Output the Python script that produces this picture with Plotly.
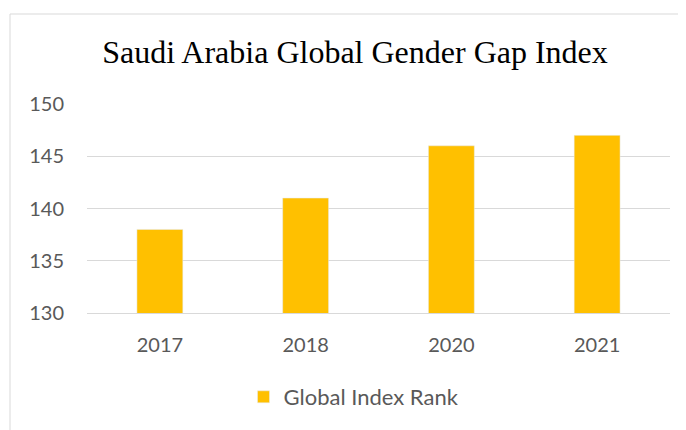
import plotly.graph_objects as go

years = ["2017", "2018", "2020", "2021"]
ranks = [138, 141, 146, 147]
series_name = "Global Index Rank"
title_text = "Saudi Arabia Global Gender Gap Index"

OFF = 8  # page body margin offset
W, H = 686, 430
# plot area in viewport pixels: x 87..670, y 104..313
L, R, T, B = 87 - OFF, W - (670 - OFF), 104 - OFF, H - (313 - OFF)
pw, ph = W - L - R, H - T - B

def px_x(x):
    return (x - OFF - L) / pw

def px_y(y):
    return (H - B - (y - OFF)) / ph

fig = go.Figure()
fig.add_trace(go.Bar(x=years, y=ranks, name=series_name, marker_color="#FFC000",
                     showlegend=True))

fig.update_layout(
    width=W, height=H,
    margin=dict(l=L, r=R, t=T, b=B),
    paper_bgcolor="white", plot_bgcolor="white",
    bargap=0.685,
    title=dict(text=title_text, x=(355 - OFF) / W, xref="container", xanchor="center",
               y=1 - (52 - OFF) / H, yref="container", yanchor="middle",
               font=dict(family="Liberation Serif", size=32, color="black")),
    font=dict(family="Lato", size=20, color="#595959"),
    showlegend=True,
    legend=dict(orientation="h", x=px_x(354), xanchor="center", y=px_y(397), yanchor="middle",
                font=dict(family="Lato", size=22, color="#595959")),
    xaxis=dict(showgrid=False, showline=True, linecolor="#D9D9D9", linewidth=1,
               ticks="", ticklabelstandoff=14, tickfont=dict(size=20)),
    yaxis=dict(range=[130, 150], dtick=5, showgrid=True, gridcolor="#D9D9D9",
               gridwidth=1, zeroline=False, ticks="", ticklabelstandoff=22,
               tickfont=dict(size=20)),
    shapes=[
        dict(type="line", xref="paper", yref="paper", x0=px_x(10), x1=px_x(10),
             y0=px_y(14), y1=px_y(450), line=dict(color="#D9D9D9", width=1)),
        dict(type="line", xref="paper", yref="paper", x0=px_x(10), x1=px_x(720),
             y0=px_y(14), y1=px_y(14), line=dict(color="#D9D9D9", width=1)),
    ],
)

fig.write_html("out.html")
